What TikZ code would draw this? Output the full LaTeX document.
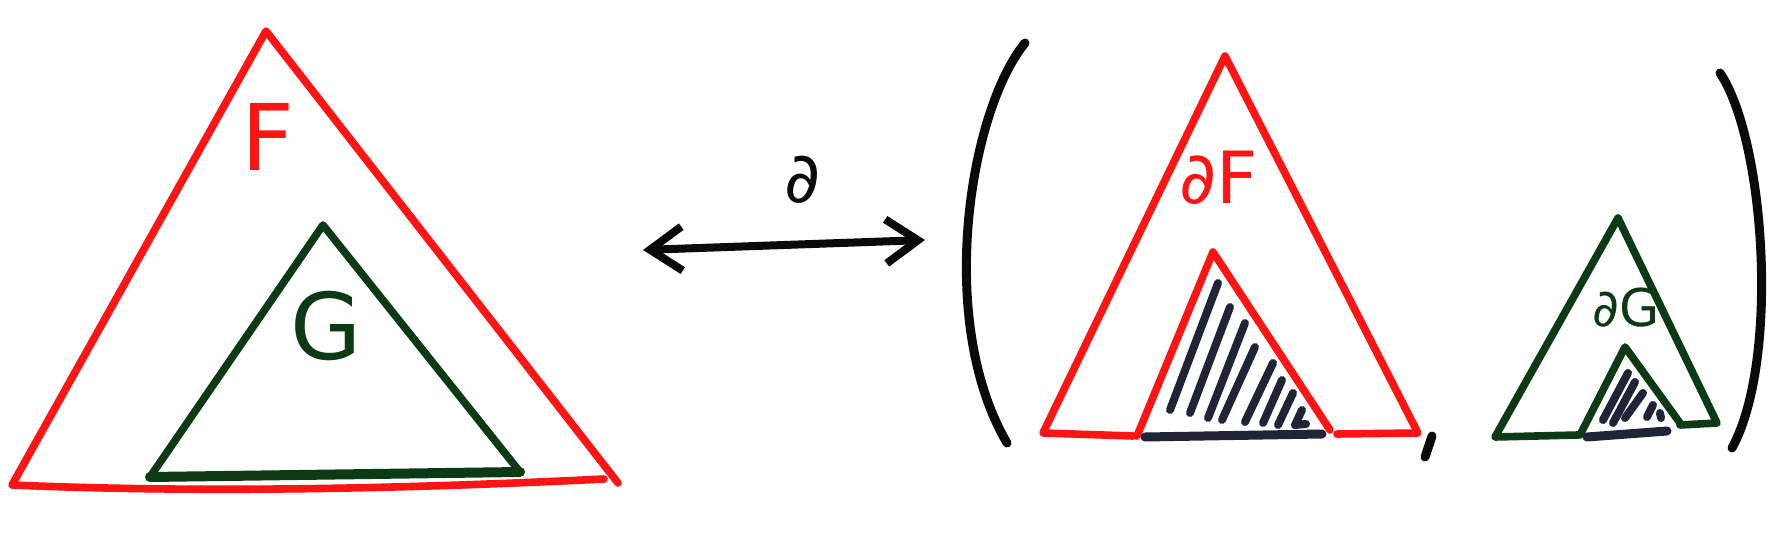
\documentclass[tikz,border=0pt]{standalone}
\usepackage{fontspec}
\setmainfont{DejaVu Sans}
\usetikzlibrary{arrows.meta}
\definecolor{mred}{HTML}{FF1414}
\definecolor{mgreen}{HTML}{0C3A14}
\definecolor{mnavy}{HTML}{1F2536}
\definecolor{mblack}{HTML}{0A0A0A}
\begin{document}
\begin{tikzpicture}[x=0.5pt,y=-0.5pt, line join=round, line cap=round,
  redline/.style={draw=mred, line width=3.8pt},
  greenline/.style={draw=mgreen, line width=3.8pt},
  darkbase/.style={draw=mnavy, line width=4.5pt},
  hatchline/.style={draw=mnavy, line width=4pt},
  parenline/.style={draw=mblack, line width=4.5pt},
  lbl/.style={inner sep=0pt, anchor=center}]
\useasboundingbox (0,0) rectangle (1774,556);

% ---------- left: F containing G ----------
\coordinate (FA) at (266,31);
\coordinate (FL) at (12,485);
\coordinate (FR) at (618,483);
\coordinate (FB) at (604,479);
\draw[redline] (FR) -- (FA) -- (FL) .. controls (200,493) and (400,489) .. (FB);

\coordinate (GA) at (323,225);
\coordinate (GL) at (150,477);
\coordinate (GR) at (520,472);
\draw[greenline] (GL) -- (GA) -- (GR);
\draw[greenline, line width=5pt] (GL) -- (GR);

\node[lbl, text=mred, font=\fontsize{46}{46}\selectfont] (Flab) at (268,137) {F};
\node[lbl, text=mgreen, font=\fontsize{46}{46}\selectfont] (Glab) at (326,326) {G};

% ---------- arrow ----------
\coordinate (AL) at (643,250);
\coordinate (AR) at (925,240);
\draw[draw=mblack, line width=4pt,
  {Straight Barb[length=16pt,width=22pt]}-{Straight Barb[length=16pt,width=22pt]}] (AL) -- (AR);
\node[lbl, text=mblack, font=\fontsize{35}{35}\selectfont] (dlab) at (803,180) {∂};

% ---------- parentheses ----------
\coordinate (P1t) at (1025,43);
\coordinate (P1b) at (1007,443);
\draw[parenline] (P1t) .. controls (970,110) and (935,320) .. (P1b);
\coordinate (P2t) at (1720,73);
\coordinate (P2b) at (1732,448);
\draw[parenline] (P2t) .. controls (1765,140) and (1780,360) .. (P2b);

% ---------- dF ----------
\coordinate (dFA) at (1225,56);
\coordinate (dFL) at (1043,433);
\coordinate (dFR) at (1418,433);
\coordinate (dFb1) at (1133,436);
\coordinate (dFb2) at (1337,434);
\draw[redline] (dFb1) -- (dFL) -- (dFA) -- (dFR) -- (dFb2);
\coordinate (dFiA) at (1213,252);
\coordinate (dFiL) at (1137,436);
\coordinate (dFiR) at (1330,430);
\draw[redline] (dFiL) -- (dFiA) -- (dFiR);
\coordinate (dFk1) at (1145,437);
\coordinate (dFk2) at (1322,434);
\draw[darkbase] (dFk1) -- (dFk2);
\draw[hatchline] (1218,283) -- (1170,410);
\draw[hatchline] (1230,307) -- (1190,413);
\draw[hatchline] (1245,323) -- (1208,418);
\draw[hatchline] (1255,347) -- (1222,420);
\draw[hatchline] (1273,363) -- (1245,422);
\draw[hatchline] (1282,380) -- (1263,423);
\draw[hatchline] (1293,393) -- (1278,425);
\draw[hatchline] (1302,410) -- (1295,425) -- (1306,424);
\node[lbl, text=mred, font=\fontsize{36}{36}\selectfont] (dFlab) at (1219,178) {∂F};

% comma
\coordinate (c1) at (1432,436);
\coordinate (c2) at (1425,457);
\draw[parenline] (c1) -- (c2);

% ---------- dG ----------
\coordinate (dGA) at (1618,218);
\coordinate (dGL) at (1495,437);
\coordinate (dGR) at (1717,423);
\coordinate (dGb1) at (1578,435);
\coordinate (dGb2) at (1680,425);
\draw[greenline] (dGb1) -- (dGL) -- (dGA) -- (dGR) -- (dGb2);
\coordinate (dGiA) at (1625,347);
\coordinate (dGiL) at (1580,435);
\coordinate (dGiR) at (1680,423);
\draw[greenline] (dGiL) -- (dGiA) -- (dGiR);
\coordinate (dGk1) at (1587,437);
\coordinate (dGk2) at (1667,431);
\draw[darkbase] (dGk1) -- (dGk2);
\draw[hatchline] (1628,373) -- (1603,420);
\draw[hatchline] (1635,382) -- (1613,423);
\draw[hatchline] (1643,393) -- (1625,418);
\draw[hatchline] (1653,405) -- (1647,417);
\draw[hatchline] (1660,413) -- (1661,418);
\node[lbl, text=mgreen, font=\fontsize{26}{26}\selectfont] (dGlab) at (1626,308) {∂G};
\end{tikzpicture}
\end{document}
